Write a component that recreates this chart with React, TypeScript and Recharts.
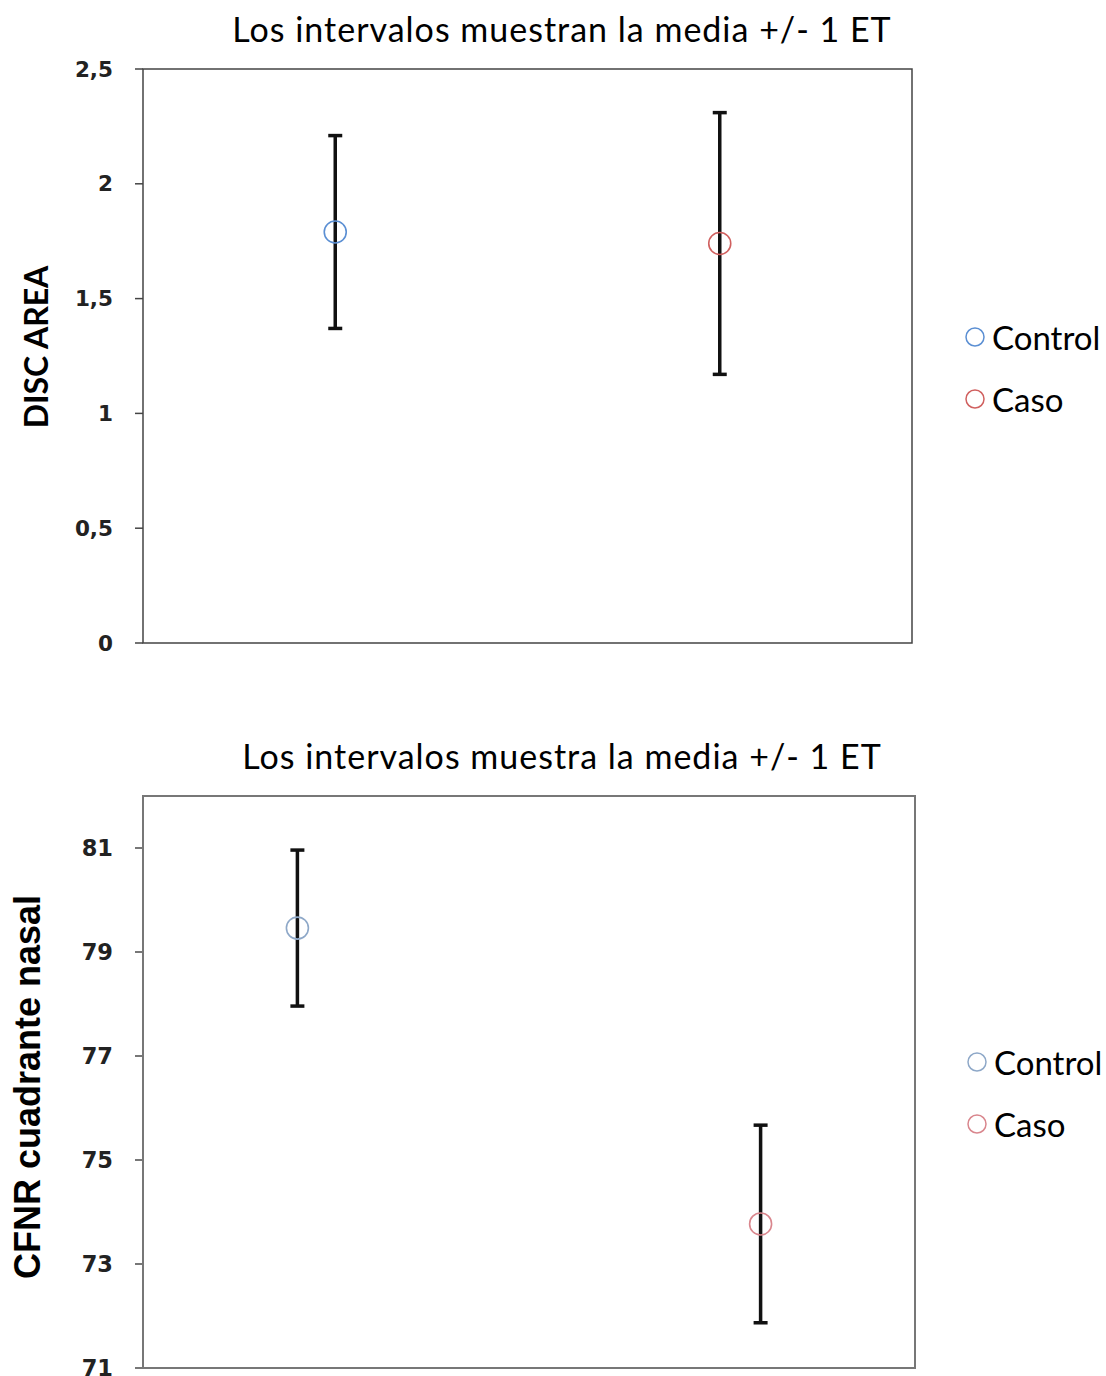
import React from "react";
import { ScatterChart, Scatter, XAxis, YAxis, ErrorBar, ReferenceArea } from "recharts";

// grupos y colores
const groups = ["Control", "Caso"];
const topColors = ["#5b8fd3", "#d0605f"];
const bottomColors = ["#8ea8c8", "#d9868d"];

// DISC AREA: media y error típico
const discX = [0.25, 0.75];
const discMean = [1.79, 1.74];
const discSe = [0.42, 0.57];
const discTicks = [0, 0.5, 1, 1.5, 2, 2.5];

// CFNR cuadrante nasal
const cfnrX = [0.2, 0.8];
const cfnrMean = [79.46, 73.77];
const cfnrSe = [1.5, 1.9];
const cfnrTicks = [71, 73, 75, 77, 79, 81];

const sans = "Lato, 'Open Sans', sans-serif";

type PanelProps = {
  top: number;
  title: string;
  titleTop: number;
  titleSize: number;
  yLabel: string;
  yLabelX: number;
  yLabelY: number;
  yLabelFont: string;
  yLabelSize: number;
  xs: number[];
  means: number[];
  ses: number[];
  ticks: number[];
  domain: [number, number];
  colors: string[];
  margin: { top: number; right: number; bottom: number; left: number };
  border: string;
  borderWidth: number;
  tickSize: number;
  legendX: number;
  legendY: number[];
};

function Panel(p: PanelProps) {
  const h = 690;
  return (
    <div style={{ position: "absolute", left: 0, top: p.top, width: 1106, height: h }}>
      <div
        style={{
          position: "absolute",
          left: 162,
          width: 800,
          top: p.titleTop,
          textAlign: "center",
          fontFamily: sans,
          fontSize: p.titleSize,
          letterSpacing: 1,
          lineHeight: 1,
          color: "#000",
        }}
      >
        {p.title}
      </div>
      <div
        style={{
          position: "absolute",
          left: p.yLabelX - 300,
          top: p.yLabelY - 25,
          width: 600,
          height: 50,
          lineHeight: "50px",
          textAlign: "center",
          transform: "rotate(-90deg)",
          fontFamily: p.yLabelFont,
          fontWeight: 700,
          fontSize: p.yLabelSize,
          color: "#000",
        }}
      >
        {p.yLabel}
      </div>
      <ScatterChart width={1106} height={h} margin={p.margin}>
        <XAxis type="number" dataKey="x" domain={[0, 1]} hide />
        <YAxis
          type="number"
          dataKey="y"
          domain={p.domain}
          ticks={p.ticks}
          width={143}
          axisLine={false}
          tickLine={{ stroke: p.border, strokeWidth: p.borderWidth }}
          tickSize={8}
          tickMargin={22}
          tick={{ fill: "#222", fontSize: p.tickSize, fontWeight: 700, fontFamily: "'DejaVu Sans', Verdana, sans-serif" }}
          tickFormatter={(v: number) => String(v).replace(".", ",")}
          interval={0}
        />
        <ReferenceArea
          x1={0}
          x2={1}
          y1={p.domain[0]}
          y2={p.domain[1]}
          fill="none"
          stroke={p.border}
          strokeWidth={p.borderWidth}
          ifOverflow="visible"
        />
        {groups.map((g, i) => (
          <Scatter
            key={g}
            name={g}
            data={[{ x: p.xs[i], y: p.means[i], se: p.ses[i] }]}
            isAnimationActive={false}
            shape={(s: any) => (
              <circle cx={s.cx} cy={s.cy} r={11} fill="none" stroke={p.colors[i]} strokeWidth={1.6} />
            )}
          >
            <ErrorBar dataKey="se" direction="y" width={7} stroke="#111" strokeWidth={3.5} isAnimationActive={false} />
          </Scatter>
        ))}
      </ScatterChart>
      {groups.map((g, i) => (
        <div
          key={g}
          style={{
            position: "absolute",
            left: p.legendX - 11,
            top: p.legendY[i] - p.top - 20,
            height: 40,
            display: "flex",
            alignItems: "center",
            fontFamily: sans,
            fontSize: 33,
            color: "#000",
          }}
        >
          <svg width={22} height={22} style={{ marginRight: 6 }}>
            <circle cx={11} cy={11} r={9} fill="none" stroke={p.colors[i]} strokeWidth={1.5} />
          </svg>
          {g}
        </div>
      ))}
    </div>
  );
}

export default function App() {
  return (
    <div style={{ position: "absolute", left: 0, top: 0, width: 1106, height: 1376, background: "#fff", overflow: "hidden" }}>
      <Panel
        top={0}
        title="Los intervalos muestran la media +/- 1 ET"
        titleTop={12}
        titleSize={34}
        yLabel="DISC AREA"
        yLabelX={36}
        yLabelY={347}
        yLabelFont={sans}
        yLabelSize={32}
        xs={discX}
        means={discMean}
        ses={discSe}
        ticks={discTicks}
        domain={[0, 2.5]}
        colors={topColors}
        margin={{ top: 69, right: 194, bottom: 47, left: 0 }}
        border="#444"
        borderWidth={1.5}
        tickSize={21.5}
        legendX={975}
        legendY={[337, 399]}
      />
      <Panel
        top={700}
        title="Los intervalos muestra la media +/- 1 ET"
        titleTop={39}
        titleSize={34}
        yLabel="CFNR cuadrante nasal"
        yLabelX={28}
        yLabelY={387}
        yLabelFont="'Liberation Sans', Arial, sans-serif"
        yLabelSize={36}
        xs={cfnrX}
        means={cfnrMean}
        ses={cfnrSe}
        ticks={cfnrTicks}
        domain={[71, 82]}
        colors={bottomColors}
        margin={{ top: 96, right: 191, bottom: 22, left: 0 }}
        border="#777"
        borderWidth={2}
        tickSize={22.5}
        legendX={977}
        legendY={[1062, 1124]}
      />
    </div>
  );
}
